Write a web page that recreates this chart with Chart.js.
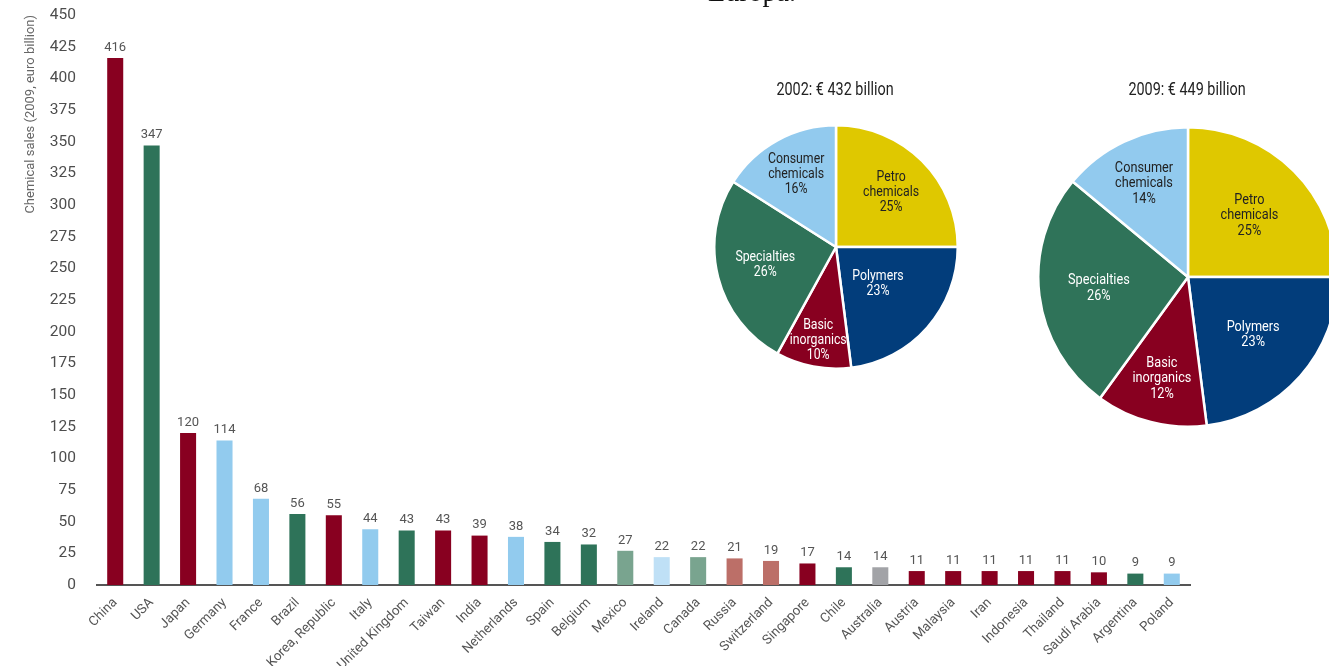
<!DOCTYPE html>
<html>
<head>
<meta charset="utf-8">
<script src="https://cdn.jsdelivr.net/npm/chart.js@4/dist/chart.umd.min.js"></script>
<style>
  html, body { margin: 0; padding: 0; background: #fff; overflow: hidden; }
  #wrap { position: relative; width: 1329px; height: 666px; overflow: hidden; }
  #bars { position: absolute; left: 0; top: 0; }
  .pie { position: absolute; }
  .pie-title {
    position: absolute; font-family: Roboto, sans-serif; font-size: 18px; color: #222;
    white-space: nowrap; transform: translateX(-50%) scaleX(0.8);
  }
  #heading {
    position: absolute; left: 752px; top: -24px; transform: translateX(-50%);
    font-family: "Liberation Serif", "DejaVu Serif", serif; font-size: 28px; color: #111;
  }
</style>
</head>
<body>
<div id="wrap">
  <canvas id="bars" width="1329" height="666"></canvas>
  <div id="heading">Europa.</div>
  <div class="pie-title" style="left:835px; top:78px;">2002: € 432 billion</div>
  <div class="pie-title" style="left:1187px; top:78px;">2009: € 449 billion</div>
  <canvas id="pie2002" class="pie" width="250" height="250" style="left:711px; top:122px;"></canvas>
  <canvas id="pie2009" class="pie" width="306" height="306" style="left:1035px; top:124px;"></canvas>
</div>
<script>
const countries = [
  "China", "USA", "Japan", "Germany", "France", "Brazil", "Korea, Republic", "Italy",
  "United Kingdom", "Taiwan", "India", "Netherlands", "Spain", "Belgium", "Mexico",
  "Ireland", "Canada", "Russia", "Switzerland", "Singapore", "Chile", "Australia",
  "Austria", "Malaysia", "Iran", "Indonesia", "Thailand", "Saudi Arabia", "Argentina", "Poland"
];
const sales2009 = [
  416, 347, 120, 114, 68, 56, 55, 44, 43, 43, 39, 38, 34, 32, 27,
  22, 22, 21, 19, 17, 14, 14, 11, 11, 11, 11, 11, 10, 9, 9
];
// region group of each country, used to pick the bar colour
const regions = [
  "asia", "nafta", "asia", "eu", "eu", "latam", "asia", "eu",
  "latam", "asia", "asia", "eu", "latam", "latam", "mexcan",
  "ireland", "mexcan", "russia", "russia", "asia", "latam", "oceania",
  "asia", "asia", "asia", "asia", "asia", "asia", "latam", "eu"
];
const yTicks = [0, 25, 50, 75, 100, 125, 150, 175, 200, 225, 250, 275, 300, 325, 350, 375, 400, 425, 450];

const segments = ["Petro\nchemicals", "Polymers", "Basic\ninorganics", "Specialties", "Consumer\nchemicals"];
const share2002 = [25, 23, 10, 26, 16];
const share2009 = [25, 23, 12, 26, 14];

const regionColor = {
  asia: "#880020",
  nafta: "#2e7359",
  latam: "#2e7359",
  eu: "#92cbee",
  mexcan: "#79a48f",
  ireland: "#bfe0f6",
  russia: "#bc6f68",
  oceania: "#a2a3a7"
};
const segmentColors = ["#dfc800", "#023d7b", "#880020", "#2f7359", "#92caee"];
const segmentText = ["#222", "#fff", "#fff", "#fff", "#222"];

const barValueLabels = {
  id: "barValueLabels",
  afterDatasetsDraw(chart) {
    const ctx = chart.ctx;
    const meta = chart.getDatasetMeta(0);
    ctx.save();
    ctx.font = "13px Roboto, sans-serif";
    ctx.fillStyle = "#555";
    ctx.textAlign = "center";
    ctx.textBaseline = "bottom";
    meta.data.forEach((bar, i) => {
      ctx.fillText(String(sales2009[i]), bar.x, bar.y - 4);
    });
    ctx.restore();
  }
};

new Chart(document.querySelector("#bars"), {
  type: "bar",
  data: {
    labels: countries,
    datasets: [{
      data: sales2009,
      backgroundColor: regions.map((r) => regionColor[r]),
      barPercentage: 0.44,
      categoryPercentage: 1
    }]
  },
  options: {
    responsive: false,
    animation: false,
    layout: { padding: { left: 0, top: 15, right: 139, bottom: 0 } },
    plugins: { legend: { display: false }, tooltip: { enabled: false } },
    scales: {
      x: {
        grid: { display: false },
        border: { display: true, color: "#555", width: 2 },
        ticks: {
          autoSkip: false, minRotation: 45, maxRotation: 45, padding: 2,
          color: "#555", font: { family: "Roboto", size: 13.3 }
        },
        afterFit: (scale) => { scale.height = 81; }
      },
      y: {
        min: 0,
        max: 450,
        afterBuildTicks: (scale) => { scale.ticks = yTicks.map((v) => ({ value: v })); },
        grid: { display: false },
        border: { display: false },
        ticks: { padding: 13, color: "#4d4d4d", font: { family: "Roboto", size: 15.5 } },
        title: {
          display: true, text: "Chemical sales (2009, euro billion)", align: "end",
          color: "#666", font: { family: "Roboto", size: 13 }, padding: { top: 23, bottom: 0 }
        },
        afterFit: (scale) => {
          scale.width = 97;
          scale.paddingTop = 0;
          scale.paddingBottom = 0;
        }
      }
    }
  },
  plugins: [barValueLabels]
});

// labels inside the pie slices, each at its own distance from the centre
const sliceLabels = {
  id: "sliceLabels",
  afterDatasetsDraw(chart, args, opts) {
    const ctx = chart.ctx;
    const meta = chart.getDatasetMeta(0);
    const values = chart.data.datasets[0].data;
    ctx.save();
    ctx.font = opts.size + "px Roboto, sans-serif";
    ctx.textAlign = "center";
    ctx.textBaseline = "middle";
    meta.data.forEach((arc, i) => {
      const mid = (arc.startAngle + arc.endAngle) / 2;
      const r = arc.outerRadius * opts.radius[i];
      const x = arc.x + Math.cos(mid) * r;
      const y = arc.y + Math.sin(mid) * r;
      const lines = segments[i].split("\n").concat(values[i] + "%");
      ctx.fillStyle = segmentText[i];
      lines.forEach((line, k) => {
        // narrow the glyphs a little, the slice text is set condensed
        ctx.save();
        ctx.translate(x, y + (k - (lines.length - 1) / 2) * opts.lineHeight);
        ctx.scale(0.82, 1);
        ctx.fillText(line, 0, 0);
        ctx.restore();
      });
    });
    ctx.restore();
  }
};

const drawPie = (id, shares, size, lineHeight, radius) => {
  new Chart(document.querySelector(id), {
    type: "pie",
    data: {
      labels: segments,
      datasets: [{
        data: shares,
        backgroundColor: segmentColors,
        borderColor: "#fff",
        borderWidth: 2.5
      }]
    },
    options: {
      responsive: false,
      animation: false,
      layout: { padding: 2 },
      plugins: {
        legend: { display: false },
        tooltip: { enabled: false },
        sliceLabels: { size, lineHeight, radius }
      }
    },
    plugins: [sliceLabels]
  });
};

drawPie("#pie2002", share2002, 15, 15, [0.64, 0.46, 0.78, 0.6, 0.68]);
drawPie("#pie2009", share2009, 15.5, 15.5, [0.58, 0.58, 0.7, 0.6, 0.69]);
</script>
</body>
</html>
